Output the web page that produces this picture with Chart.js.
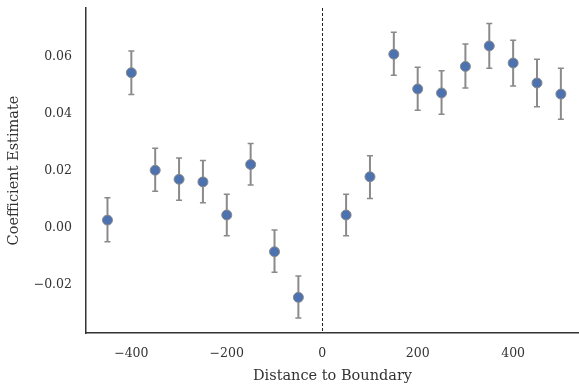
<!DOCTYPE html>
<html lang="en">
<head>
    <meta charset="UTF-8" />
    <title>Coefficient Estimate by Distance to Boundary</title>
    <script src="https://cdn.jsdelivr.net/npm/chart.js@4.4.0/dist/chart.umd.min.js"></script>
    <style>
        body { margin: 0; background: #fff; }
        #wrap { width: 579px; height: 386px; }
    </style>
</head>
<body>
<div id="wrap"><canvas id="chart"></canvas></div>
<script>
    // distance bins (x) and estimates with upper / lower bounds of the error bars
    const distances = [-450, -400, -350, -300, -250, -200, -150, -100, -50, 50, 100, 150, 200, 250, 300, 350, 400, 450, 500];
    const estimates = [0.0027, 0.0544, 0.0202, 0.0170, 0.0161, 0.0045, 0.0222, -0.0084, -0.0244, 0.0045, 0.0179, 0.0609, 0.0487, 0.0473, 0.0566, 0.0638, 0.0578, 0.0508, 0.0469];
    const upper = [0.0105, 0.0620, 0.0279, 0.0245, 0.0236, 0.0118, 0.0296, -0.0008, -0.0169, 0.0118, 0.0253, 0.0686, 0.0563, 0.0551, 0.0645, 0.0717, 0.0658, 0.0591, 0.0560];
    const lower = [-0.0049, 0.0468, 0.0128, 0.0097, 0.0088, -0.0028, 0.0150, -0.0156, -0.0316, -0.0028, 0.0103, 0.0535, 0.0412, 0.0398, 0.0490, 0.0560, 0.0497, 0.0425, 0.0381];
    const xTicks = [-400, -200, 0, 200, 400];
    const yTicks = [-0.02, 0.00, 0.02, 0.04, 0.06];

    const font = "'DejaVu Serif', 'Liberation Serif', serif";
    const minus = s => String(s).replace('-', '\u2212');

    // draws the error bars and the dashed line at the boundary
    const extras = {
        id: 'extras',
        beforeDatasetsDraw(chart) {
            const ctx = chart.ctx;
            const xs = chart.scales.x, ys = chart.scales.y;
            const area = chart.chartArea;
            ctx.save();
            // boundary line
            ctx.strokeStyle = '#222';
            ctx.lineWidth = 1;
            ctx.setLineDash([3, 2]);
            const x0 = Math.round(xs.getPixelForValue(0)) + 0.5;
            ctx.beginPath();
            ctx.moveTo(x0, area.top);
            ctx.lineTo(x0, area.bottom);
            ctx.stroke();
            ctx.setLineDash([]);
            // error bars
            ctx.strokeStyle = '#8a8a8a';
            for (let i = 0; i < distances.length; i++) {
                const px = xs.getPixelForValue(distances[i]);
                const top = ys.getPixelForValue(upper[i]);
                const bot = ys.getPixelForValue(lower[i]);
                ctx.lineWidth = 2;
                ctx.beginPath();
                ctx.moveTo(px, top);
                ctx.lineTo(px, bot);
                ctx.stroke();
                ctx.lineWidth = 1.5;
                ctx.beginPath();
                ctx.moveTo(px - 3, top);
                ctx.lineTo(px + 3, top);
                ctx.moveTo(px - 3, bot);
                ctx.lineTo(px + 3, bot);
                ctx.stroke();
            }
            ctx.restore();
        }
    };

    const ctx = document.getElementById('chart').getContext('2d');
    new Chart(ctx, {
        type: 'scatter',
        data: {
            datasets: [{
                data: distances.map((d, i) => ({ x: d, y: estimates[i] })),
                backgroundColor: '#4c72b0',
                borderColor: '#8a8a8a',
                borderWidth: 1,
                pointRadius: 5,
                pointHoverRadius: 5
            }]
        },
        options: {
            responsive: true,
            maintainAspectRatio: false,
            animation: false,
            layout: { autoPadding: false, padding: { top: 8, left: 0, right: 0, bottom: 0 } },
            plugins: { legend: { display: false }, tooltip: { enabled: false } },
            scales: {
                x: {
                    type: 'linear',
                    min: -495,
                    max: 538,
                    afterBuildTicks: axis => { axis.ticks = xTicks.map(v => ({ value: v })); },
                    afterFit: axis => { axis.height = 53; axis.paddingLeft = 0; axis.paddingRight = 0; },
                    grid: { display: false, drawTicks: false },
                    border: { display: true, color: '#333', width: 1.5 },
                    ticks: {
                        padding: 13,
                        color: '#333',
                        font: { family: font, size: 12.5 },
                        callback: v => minus(v)
                    },
                    title: {
                        display: true,
                        text: 'Distance to Boundary',
                        color: '#333',
                        font: { family: font, size: 14.5 },
                        padding: { top: 0, bottom: 1 }
                    }
                },
                y: {
                    min: -0.0369,
                    max: 0.0771,
                    afterBuildTicks: axis => { axis.ticks = yTicks.map(v => ({ value: v })); },
                    afterFit: axis => { axis.width = 86; axis.paddingTop = 0; axis.paddingBottom = 0; },
                    grid: { display: false, drawTicks: false },
                    border: { display: true, color: '#333', width: 1.5 },
                    ticks: {
                        padding: 14,
                        color: '#333',
                        font: { family: font, size: 12.5 },
                        callback: v => minus(v.toFixed(2))
                    },
                    title: {
                        display: true,
                        text: 'Coefficient Estimate',
                        color: '#333',
                        font: { family: font, size: 14.5 },
                        padding: { top: 6, bottom: 0 }
                    }
                }
            }
        },
        plugins: [extras]
    });
</script>
</body>
</html>
